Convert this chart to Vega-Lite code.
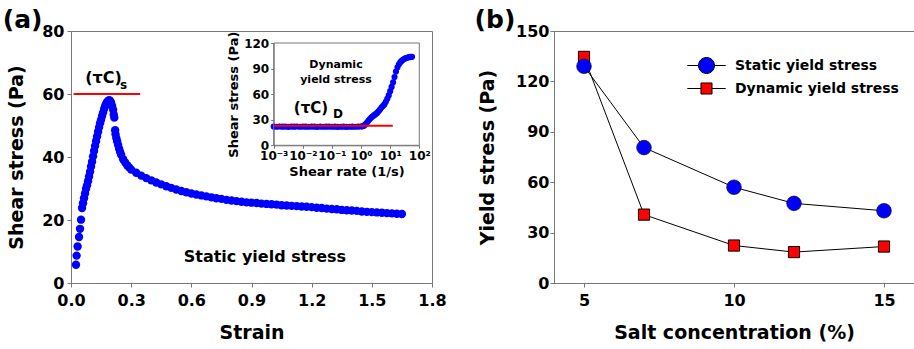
{
  "$schema": "https://vega.github.io/schema/vega-lite/v6.json",
  "background": "white",
  "padding": {"left": 2, "top": 7, "right": 0, "bottom": 0},
  "spacing": 27,
  "config": {
    "font": "DejaVu Sans",
    "view": {"stroke": "#777", "strokeWidth": 1},
    "axis": {
      "grid": false,
      "labelFont": "DejaVu Sans", "labelFontWeight": "bold", "labelColor": "black", "labelFontSize": 16,
      "titleFont": "DejaVu Sans", "titleFontWeight": "bold", "titleColor": "black", "titleFontSize": 19,
      "domainColor": "#777", "tickColor": "#777", "tickSize": 4,
      "labelFlush": false, "labelOverlap": false, "labelBound": false, "labelPadding": 3
    },
    "legend": {"title": null, "orient": "none", "legendX": 627, "legendY": 26, "symbolSize": 256, "labelFont": "DejaVu Sans", "labelFontWeight": "bold", "labelFontSize": 14, "labelColor": "black", "labelOffset": 20, "labelLimit": 400, "rowPadding": 4, "padding": 0, "symbolStrokeColor": "black", "symbolStrokeWidth": 1, "symbolOpacity": 1},
    "title": {"font": "DejaVu Sans", "fontWeight": "bold", "fontSize": 25, "color": "black", "anchor": "start", "frame": "bounds", "offset": -10}
  },
  "datasets": {
    "strain": [
      {"strain": 0.025, "stress": 5.8}, {"strain": 0.028, "stress": 8.7}, {"strain": 0.033, "stress": 11.6},
      {"strain": 0.040, "stress": 14.6}, {"strain": 0.045, "stress": 17.2}, {"strain": 0.050, "stress": 20.1},
      {"strain": 0.055, "stress": 23.8}, {"strain": 0.060, "stress": 25.3}, {"strain": 0.065, "stress": 26.9},
      {"strain": 0.070, "stress": 28.4}, {"strain": 0.075, "stress": 29.9}, {"strain": 0.080, "stress": 31.0},
      {"strain": 0.085, "stress": 32.3}, {"strain": 0.090, "stress": 33.8}, {"strain": 0.095, "stress": 35.3},
      {"strain": 0.100, "stress": 37.0}, {"strain": 0.105, "stress": 38.5}, {"strain": 0.110, "stress": 40.2},
      {"strain": 0.115, "stress": 41.9}, {"strain": 0.120, "stress": 43.5}, {"strain": 0.125, "stress": 45.0},
      {"strain": 0.130, "stress": 46.5}, {"strain": 0.135, "stress": 48.0}, {"strain": 0.140, "stress": 49.4},
      {"strain": 0.145, "stress": 50.7}, {"strain": 0.150, "stress": 51.8}, {"strain": 0.155, "stress": 53.0},
      {"strain": 0.160, "stress": 54.1}, {"strain": 0.165, "stress": 55.2}, {"strain": 0.170, "stress": 56.1},
      {"strain": 0.175, "stress": 56.9}, {"strain": 0.180, "stress": 57.5}, {"strain": 0.185, "stress": 57.8},
      {"strain": 0.190, "stress": 58.0}, {"strain": 0.195, "stress": 57.9}, {"strain": 0.200, "stress": 57.2},
      {"strain": 0.205, "stress": 56.2}, {"strain": 0.210, "stress": 55.0}, {"strain": 0.213, "stress": 53.5},
      {"strain": 0.216, "stress": 52.5}, {"strain": 0.220, "stress": 48.5}, {"strain": 0.222, "stress": 47.2},
      {"strain": 0.226, "stress": 46.0}, {"strain": 0.230, "stress": 45.0}, {"strain": 0.235, "stress": 43.8},
      {"strain": 0.240, "stress": 42.6}, {"strain": 0.245, "stress": 41.6}, {"strain": 0.250, "stress": 40.7},
      {"strain": 0.260, "stress": 39.3}, {"strain": 0.270, "stress": 38.3}, {"strain": 0.280, "stress": 37.4},
      {"strain": 0.290, "stress": 36.7}, {"strain": 0.300, "stress": 36.0}, {"strain": 0.325, "stress": 35.0},
      {"strain": 0.350, "stress": 34.1}, {"strain": 0.375, "stress": 33.3}, {"strain": 0.400, "stress": 32.6},
      {"strain": 0.425, "stress": 31.9}, {"strain": 0.450, "stress": 31.3}, {"strain": 0.475, "stress": 30.7},
      {"strain": 0.500, "stress": 30.2}, {"strain": 0.525, "stress": 29.7}, {"strain": 0.550, "stress": 29.2},
      {"strain": 0.575, "stress": 28.8}, {"strain": 0.600, "stress": 28.4}, {"strain": 0.625, "stress": 28.1},
      {"strain": 0.650, "stress": 27.8}, {"strain": 0.675, "stress": 27.5}, {"strain": 0.700, "stress": 27.2},
      {"strain": 0.725, "stress": 26.9}, {"strain": 0.750, "stress": 26.7}, {"strain": 0.775, "stress": 26.4},
      {"strain": 0.800, "stress": 26.2}, {"strain": 0.825, "stress": 26.0}, {"strain": 0.850, "stress": 25.8},
      {"strain": 0.875, "stress": 25.6}, {"strain": 0.900, "stress": 25.5}, {"strain": 0.925, "stress": 25.4},
      {"strain": 0.950, "stress": 25.2}, {"strain": 0.975, "stress": 25.1}, {"strain": 1.000, "stress": 25.0},
      {"strain": 1.025, "stress": 24.9}, {"strain": 1.050, "stress": 24.7}, {"strain": 1.075, "stress": 24.6},
      {"strain": 1.100, "stress": 24.5}, {"strain": 1.125, "stress": 24.4}, {"strain": 1.150, "stress": 24.3},
      {"strain": 1.175, "stress": 24.2}, {"strain": 1.200, "stress": 24.1}, {"strain": 1.225, "stress": 23.9},
      {"strain": 1.250, "stress": 23.8}, {"strain": 1.275, "stress": 23.6}, {"strain": 1.300, "stress": 23.5},
      {"strain": 1.325, "stress": 23.4}, {"strain": 1.350, "stress": 23.2}, {"strain": 1.375, "stress": 23.1},
      {"strain": 1.400, "stress": 23.0}, {"strain": 1.425, "stress": 22.9}, {"strain": 1.450, "stress": 22.7},
      {"strain": 1.475, "stress": 22.6}, {"strain": 1.500, "stress": 22.5}, {"strain": 1.525, "stress": 22.4},
      {"strain": 1.550, "stress": 22.3}, {"strain": 1.575, "stress": 22.2}, {"strain": 1.600, "stress": 22.1},
      {"strain": 1.625, "stress": 22.0}, {"strain": 1.650, "stress": 21.9}
    ],
    "rate": [
      {"rate": 0.001, "stress": 22.0}, {"rate": 0.00126, "stress": 21.8}, {"rate": 0.00158, "stress": 22.1},
      {"rate": 0.002, "stress": 21.9}, {"rate": 0.00251, "stress": 22.0}, {"rate": 0.00316, "stress": 21.7},
      {"rate": 0.00398, "stress": 22.0}, {"rate": 0.00501, "stress": 21.9}, {"rate": 0.00631, "stress": 22.1},
      {"rate": 0.00794, "stress": 21.8}, {"rate": 0.01, "stress": 22.0}, {"rate": 0.0126, "stress": 21.9},
      {"rate": 0.0158, "stress": 21.8}, {"rate": 0.02, "stress": 22.0}, {"rate": 0.0251, "stress": 21.9},
      {"rate": 0.0316, "stress": 21.7}, {"rate": 0.0398, "stress": 22.0}, {"rate": 0.0501, "stress": 21.8},
      {"rate": 0.0631, "stress": 21.9}, {"rate": 0.0794, "stress": 22.0}, {"rate": 0.1, "stress": 21.8},
      {"rate": 0.126, "stress": 21.9}, {"rate": 0.158, "stress": 21.7}, {"rate": 0.2, "stress": 21.8},
      {"rate": 0.251, "stress": 21.9}, {"rate": 0.316, "stress": 21.7}, {"rate": 0.398, "stress": 21.8},
      {"rate": 0.501, "stress": 21.9}, {"rate": 0.631, "stress": 21.8}, {"rate": 0.794, "stress": 22.0},
      {"rate": 1.0, "stress": 22.1}, {"rate": 1.12, "stress": 22.4}, {"rate": 1.26, "stress": 23.0},
      {"rate": 1.41, "stress": 24.5}, {"rate": 1.58, "stress": 26.5}, {"rate": 1.78, "stress": 28.8},
      {"rate": 2.0, "stress": 30.8}, {"rate": 2.24, "stress": 32.5}, {"rate": 2.51, "stress": 34.0},
      {"rate": 2.82, "stress": 35.3}, {"rate": 3.16, "stress": 36.5}, {"rate": 3.55, "stress": 38.0},
      {"rate": 3.98, "stress": 39.8}, {"rate": 4.47, "stress": 42.0}, {"rate": 5.01, "stress": 44.3},
      {"rate": 5.62, "stress": 46.0}, {"rate": 6.31, "stress": 48.0}, {"rate": 7.08, "stress": 51.0},
      {"rate": 7.94, "stress": 54.5}, {"rate": 8.91, "stress": 58.5}, {"rate": 10.0, "stress": 63.5},
      {"rate": 11.2, "stress": 68.5}, {"rate": 12.6, "stress": 74.0}, {"rate": 14.1, "stress": 80.0},
      {"rate": 15.8, "stress": 86.5}, {"rate": 17.8, "stress": 91.5}, {"rate": 20.0, "stress": 95.0},
      {"rate": 22.4, "stress": 97.5}, {"rate": 25.1, "stress": 99.3}, {"rate": 28.2, "stress": 100.6},
      {"rate": 31.6, "stress": 101.6}, {"rate": 35.5, "stress": 102.4}, {"rate": 39.8, "stress": 103.0},
      {"rate": 44.7, "stress": 103.4}, {"rate": 50.1, "stress": 103.7}, {"rate": 56.2, "stress": 103.8}
    ],
    "salt": [
      {"salt": 5, "ys": 129.0, "series": "Static yield stress"},
      {"salt": 7, "ys": 80.6, "series": "Static yield stress"},
      {"salt": 10, "ys": 57.0, "series": "Static yield stress"},
      {"salt": 12, "ys": 47.4, "series": "Static yield stress"},
      {"salt": 15, "ys": 43.0, "series": "Static yield stress"},
      {"salt": 5, "ys": 134.6, "series": "Dynamic yield stress"},
      {"salt": 7, "ys": 40.7, "series": "Dynamic yield stress"},
      {"salt": 10, "ys": 22.3, "series": "Dynamic yield stress"},
      {"salt": 12, "ys": 18.4, "series": "Dynamic yield stress"},
      {"salt": 15, "ys": 21.7, "series": "Dynamic yield stress"}
    ]
  },
  "hconcat": [
    {
      "width": 361,
      "height": 252,
      "title": {"text": "(a)", "dx": -5},
      "layer": [
        {
          "layer": [
            {
              "data": {"name": "strain"},
              "mark": {"type": "circle", "size": 70, "color": "#0000FF", "opacity": 1},
              "encoding": {
                "x": {"field": "strain", "type": "quantitative",
                  "scale": {"domain": [0, 1.8], "nice": false, "zero": false},
                  "axis": {"title": "Strain", "values": [0, 0.3, 0.6, 0.9, 1.2, 1.5, 1.8], "format": ".1f", "labelPadding": 5, "titlePadding": 15}},
                "y": {"field": "stress", "type": "quantitative",
                  "scale": {"domain": [0, 80], "nice": false},
                  "axis": {"title": "Shear stress (Pa)", "values": [0, 20, 40, 60, 80], "titlePadding": 15}}
              }
            },
            {
              "data": {"values": [{}]},
              "mark": {"type": "rule", "color": "#FF0000", "strokeWidth": 2},
              "encoding": {
                "x": {"datum": 0.013, "type": "quantitative"},
                "x2": {"datum": 0.345},
                "y": {"datum": 60, "type": "quantitative"}
              }
            },
            {
              "data": {"values": [{}]},
              "mark": {"type": "text", "text": "(τC)", "font": "DejaVu Sans", "fontWeight": "bold", "fontSize": 16, "align": "center", "baseline": "middle", "color": "black"},
              "encoding": {
                "x": {"datum": 0.162, "type": "quantitative"},
                "y": {"datum": 65.1, "type": "quantitative"}
              }
            },
            {
              "data": {"values": [{}]},
              "mark": {"type": "text", "text": "s", "font": "DejaVu Sans", "fontWeight": "bold", "fontSize": 12, "align": "center", "baseline": "middle", "color": "black"},
              "encoding": {
                "x": {"datum": 0.262, "type": "quantitative"},
                "y": {"datum": 63.0, "type": "quantitative"}
              }
            },
            {
              "data": {"values": [{}]},
              "mark": {"type": "text", "text": "Static yield stress", "font": "DejaVu Sans", "fontWeight": "bold", "fontSize": 16, "align": "center", "baseline": "middle", "color": "black"},
              "encoding": {
                "x": {"datum": 0.967, "type": "quantitative"},
                "y": {"datum": 8.3, "type": "quantitative"}
              }
            }
          ]
        },
        {
          "layer": [
            {
              "data": {"name": "rate"},
              "mark": {"type": "circle", "size": 38, "color": "#0000FF", "opacity": 1},
              "encoding": {
                "x": {"field": "rate", "type": "quantitative",
                  "scale": {"type": "log", "domain": [0.001, 100], "range": [202.7, 348.3], "nice": false},
                  "axis": {"orient": "bottom", "offset": -137.7, "title": "Shear rate (1/s)", "titleFontSize": 13, "labelFontSize": 12, "tickSize": 3, "labelPadding": 2, "titlePadding": 4,
                    "values": [0.001, 0.01, 0.1, 1, 10, 100],
                    "labelExpr": "datum.value < 0.005 ? '10⁻³' : datum.value < 0.05 ? '10⁻²' : datum.value < 0.5 ? '10⁻¹' : datum.value < 5 ? '10⁰' : datum.value < 50 ? '10¹' : '10²'"}},
                "y": {"field": "stress", "type": "quantitative",
                  "scale": {"domain": [0, 120], "range": [114.3, 12], "nice": false},
                  "axis": {"orient": "left", "offset": -202.7, "title": "Shear stress (Pa)", "titleFontSize": 13, "labelFontSize": 12, "tickSize": 3, "labelPadding": 2, "titlePadding": 3,
                    "values": [0, 30, 60, 90, 120]}}
              }
            },
            {
              "data": {"values": [{}]},
              "mark": {"type": "rect", "fillOpacity": 0, "stroke": "#777", "strokeWidth": 1},
              "encoding": {
                "x": {"datum": 0.001, "type": "quantitative"},
                "x2": {"datum": 100},
                "y": {"datum": 0, "type": "quantitative"},
                "y2": {"datum": 120}
              }
            },
            {
              "data": {"values": [{}]},
              "mark": {"type": "rule", "color": "#FF0000", "strokeWidth": 2},
              "encoding": {
                "x": {"datum": 0.001, "type": "quantitative"},
                "x2": {"datum": 12.3},
                "y": {"datum": 23, "type": "quantitative"}
              }
            },
            {
              "data": {"values": [{}]},
              "mark": {"type": "text", "text": "(τC)", "font": "DejaVu Sans", "fontWeight": "bold", "fontSize": 15, "align": "center", "baseline": "middle", "color": "black"},
              "encoding": {
                "x": {"datum": 0.019, "type": "quantitative"},
                "y": {"datum": 44, "type": "quantitative"}
              }
            },
            {
              "data": {"values": [{}]},
              "mark": {"type": "text", "text": "D", "font": "DejaVu Sans", "fontWeight": "bold", "fontSize": 12, "align": "center", "baseline": "middle", "color": "black"},
              "encoding": {
                "x": {"datum": 0.162, "type": "quantitative"},
                "y": {"datum": 37, "type": "quantitative"}
              }
            },
            {
              "data": {"values": [{}]},
              "mark": {"type": "text", "text": ["Dynamic", "yield stress"], "font": "DejaVu Sans", "fontWeight": "bold", "fontSize": 11, "lineHeight": 15, "align": "center", "baseline": "middle", "color": "black"},
              "encoding": {
                "x": {"datum": 0.138, "type": "quantitative"},
                "y": {"datum": 94, "type": "quantitative"}
              }
            }
          ]
        }
      ],
      "resolve": {"scale": {"x": "independent", "y": "independent"}, "axis": {"x": "independent", "y": "independent"}}
    },
    {
      "width": 360,
      "height": 252,
      "title": {"text": "(b)", "dx": -4},
      "data": {"name": "salt"},
      "encoding": {
        "x": {"field": "salt", "type": "quantitative",
          "scale": {"domain": [4, 16], "nice": false, "zero": false},
          "axis": {"title": "Salt concentration (%)", "values": [5, 10, 15], "labelPadding": 5, "titlePadding": 15}},
        "y": {"field": "ys", "type": "quantitative",
          "scale": {"domain": [0, 150], "nice": false},
          "axis": {"title": "Yield stress (Pa)", "values": [0, 30, 60, 90, 120, 150], "titlePadding": 18, "labelPadding": 1}}
      },
      "layer": [
        {
          "mark": {"type": "line", "color": "black", "strokeWidth": 1},
          "encoding": {"detail": {"field": "series", "type": "nominal"}}
        },
        {
          "transform": [{"filter": "datum.series == 'Dynamic yield stress'"}],
          "mark": {"type": "square", "size": 125, "fill": "#FF0000", "stroke": "black", "strokeWidth": 1, "opacity": 1, "filled": true}
        },
        {
          "transform": [{"filter": "datum.series == 'Static yield stress'"}],
          "mark": {"type": "circle", "size": 215, "fill": "#0000FF", "stroke": "#111", "strokeWidth": 0.7, "opacity": 1, "filled": true}
        },
        {
          "transform": [{"filter": "false"}],
          "mark": {"type": "point", "strokeWidth": 1, "opacity": 1},
          "encoding": {
            "shape": {"field": "series", "type": "nominal",
              "scale": {"domain": ["Static yield stress", "Dynamic yield stress"],
                "range": ["M-2.4,0H-1M1,0H2.4M-1,0A1,1,0,1,0,1,0A1,1,0,1,0,-1,0Z", "M-2.4,0H-0.69M0.69,0H2.4M-0.69,-0.69H0.69V0.69H-0.69Z"]}},
            "fill": {"field": "series", "type": "nominal",
              "scale": {"domain": ["Static yield stress", "Dynamic yield stress"], "range": ["#0000FF", "#FF0000"]}},
            "stroke": {"field": "series", "type": "nominal",
              "scale": {"domain": ["Static yield stress", "Dynamic yield stress"], "range": ["#000000", "#000000"]}}
          }
        }
      ]
    }
  ]
}
